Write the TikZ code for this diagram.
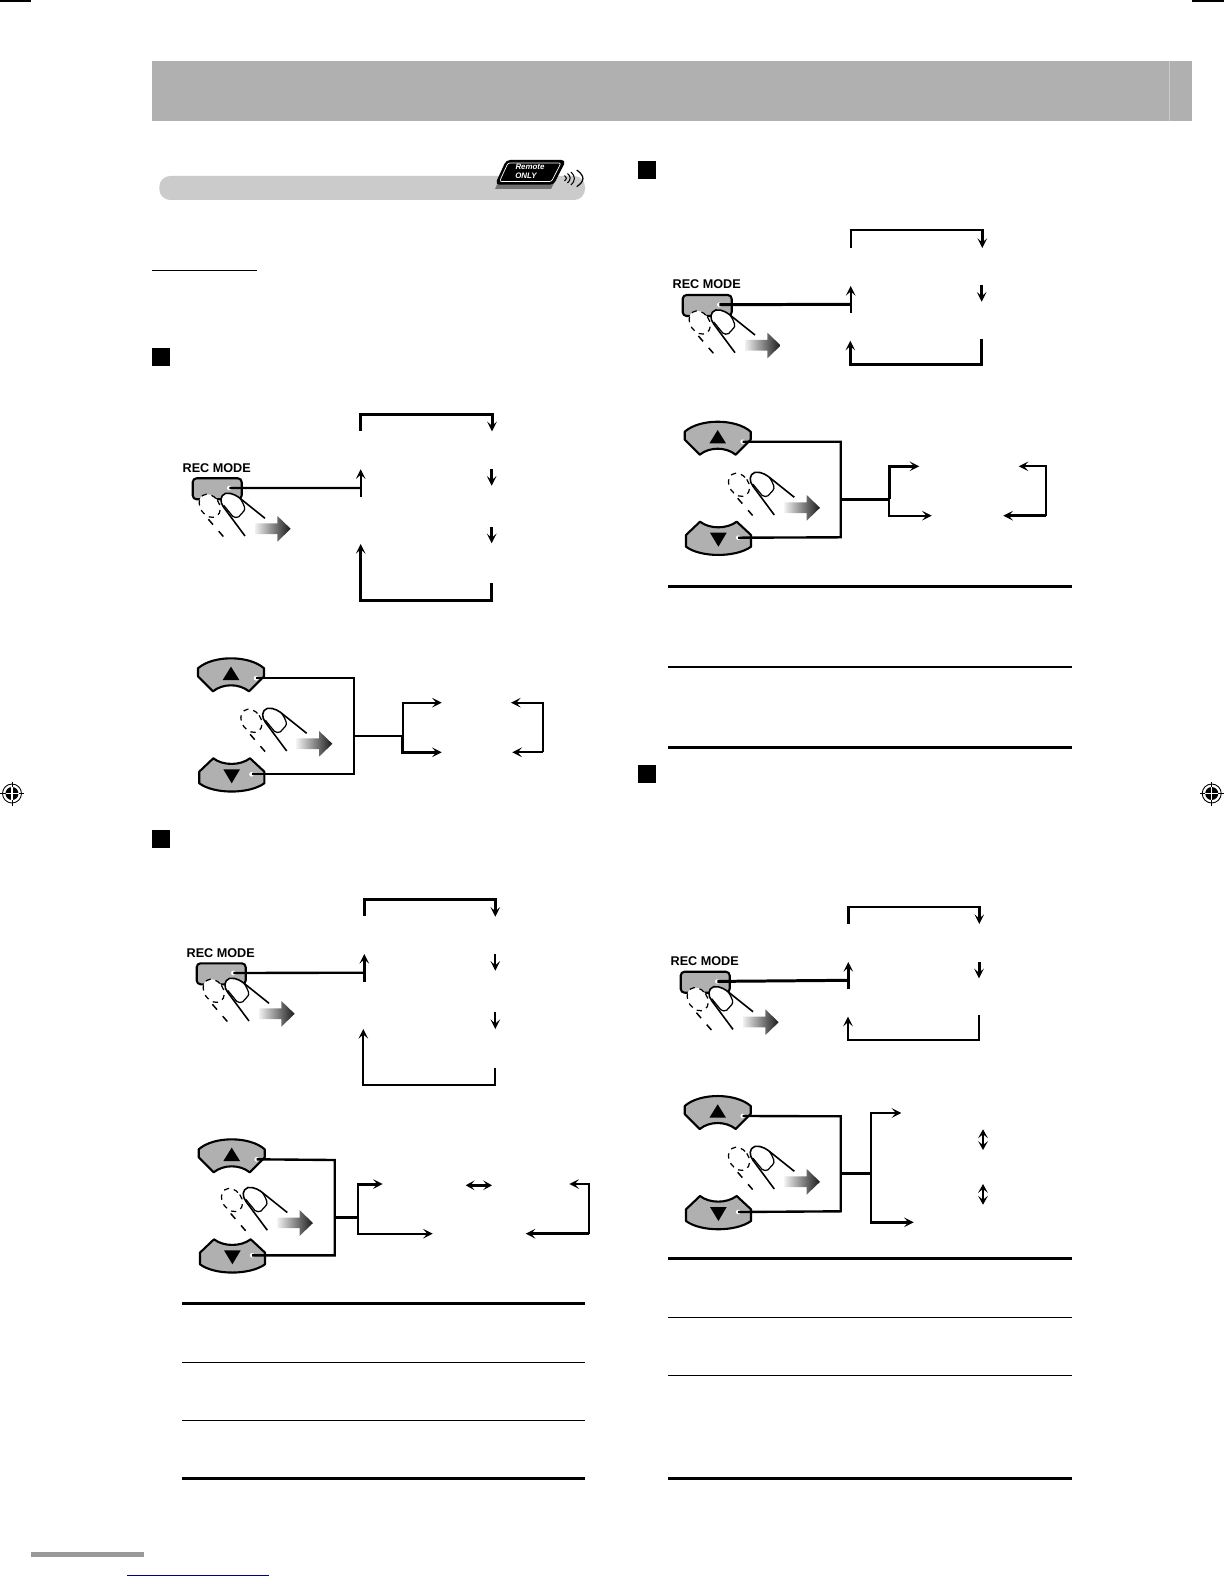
\documentclass[tikz,border=0pt]{standalone}
\usepackage{fontspec}
\setsansfont{Liberation Sans}
\usepackage{tikz}
\usetikzlibrary{arrows.meta}
\definecolor{keygray}{HTML}{B0B0B0}
\definecolor{bargray}{HTML}{CBCBCB}
\tikzset{
  heavy/.style={line width=1.7pt},
  medium/.style={line width=1.35pt},
  light/.style={line width=1pt},
  tipped/.style={-{Stealth[length=5.5pt,width=5.5pt,inset=2.4pt]}},
  tippedboth/.style={{Stealth[length=5pt,width=5.5pt,inset=2.2pt]}-{Stealth[length=5pt,width=5.5pt,inset=2.2pt]}},
  rule/.style={line width=#1},
  keyshape/.style={draw,fill=keygray,line width=1.2pt,line join=round},
  regmark/.pic={
    \fill (0,0) circle (6.5);
    \draw[line width=0.5pt] (0,0) circle (9.5);
    \draw[white,line width=0.6pt] (-6.5,0) -- (6.5,0) (0,-6.5) -- (0,6.5);
    \draw[line width=0.4pt] (-12,0) -- (-6.5,0) (6.5,0) -- (12,0) (0,-12) -- (0,-6.5) (0,6.5) -- (0,12);
  },
  fingerpush/.pic={
    \draw[fill=white,line width=0.7pt,dash pattern=on 3pt off 2.8pt,rotate around={35:(17,27.5)}] (17,27.5) ellipse (9.5 and 12.5);
    \draw[line width=0.85pt,dash pattern=on 4pt off 5pt] (15.7,41) -- (30.7,58.3);
    \fill[white] (52.3,57.7) -- (31,29) .. controls (27,24) and (27,17) .. (33,15) .. controls (40,14) and (46,19) .. (47.3,20) -- (72.3,40) -- cycle;
    \draw[line width=0.9pt] (52.3,57.7) -- (31,29) .. controls (27,24) and (27,17) .. (33,15) .. controls (40,14) and (46,19) .. (47.3,20) -- (72.3,40);
    \draw[line width=0.7pt] (31,27) -- (40,38) .. controls (42,40) and (44,39) .. (46,38.5) -- (51,33) .. controls (53,31) and (52,27) .. (47.3,20);
    \shade[left color=black!6,middle color=black!60,right color=black!90] (62.3,45) -- (84.7,45) -- (84.7,37.7) -- (98,50.5) -- (84.7,63.3) -- (84.7,55.7) -- (62.3,55.7) -- cycle;
  },
  recbutton/.pic={
    \node[font=\sffamily\bfseries\fontsize{7.2}{8}\selectfont,inner sep=0pt] (-label) at (24,-10.6) {REC MODE};
    \draw[keyshape,rounded corners=2.2pt] (0,0) rectangle (49,21);
    \pic at (0,0) {fingerpush};
    \fill[white] (36.6,9.7) circle (2.3);
    \coordinate (-lead) at (36.6,9.7);
  },
  updownkeys/.pic={
    \draw[keyshape] (-33,10) .. controls (-18,-3.3) and (18,-3.3) .. (33,10) -- (33,18) -- (18,33) .. controls (8,25) and (-8,25) .. (-18,33) -- (-33,18) -- cycle;
    \fill (0,8.3) -- (-8.3,21.7) -- (8.3,21.7) -- cycle;
    \draw[keyshape] (-17.7,100) .. controls (-8,107.5) and (9,107.5) .. (19,100) -- (33.3,113.3) -- (33.3,125) .. controls (18,136) and (-17,136) .. (-31.7,125) -- (-31.7,113.3) -- cycle;
    \fill (-7.7,111) -- (9,111) -- (0.7,125) -- cycle;
    \fill[white] (25,20) circle (2.3);
    \fill[white] (20.5,116) circle (2.3);
    \coordinate (-up) at (25,20);
    \coordinate (-down) at (20.5,116);
  },
}
\begin{document}
\begin{tikzpicture}[x=0.02cm,y=-0.02cm]
  \useasboundingbox (0,0) rectangle (1224,1584);

  \fill[keygray] (151.5,61) rectangle (1192,120.7);
  \draw[bargray,line width=0.6pt] (1169.3,61) -- (1169.3,120.7);
  \draw[line width=0.6pt] (0,1) -- (31,1);
  \draw[line width=0.6pt] (1192,1) -- (1224,1);
  \pic (markL) at (12,793.5) {regmark};
  \pic (markR) at (1211.7,793.5) {regmark};
  \fill[black!40] (31,1551.7) rectangle (144,1557);
  \draw[blue!50!black,line width=0.6pt] (127,1575.3) -- (269,1575.3);

  \fill[bargray,rounded corners=6.2pt] (159.3,176) rectangle (585,200);
  \fill[black!55] (506,165) -- (563,165) -- (551,189) -- (495,189) -- cycle;
  \draw[fill=black,line width=0.8pt,rounded corners=2pt] (506.7,160.7) -- (565,160.7) -- (553.3,184) -- (496,184) -- cycle;
  \draw[white,line width=0.4pt,rounded corners=1.2pt] (508,163) -- (561,163) -- (551.5,181.5) -- (499.5,181.5) -- cycle;
  \node[white,font=\sffamily\bfseries\itshape\fontsize{4.5}{5}\selectfont,inner sep=0pt] (remote) at (530,167) {Remote};
  \node[white,font=\sffamily\bfseries\itshape\fontsize{4.5}{5}\selectfont,inner sep=0pt] (only) at (526,176) {ONLY};
  \draw[line width=0.6pt] (564.5,175.5) .. controls (567,177) and (567,179) .. (564.5,181);
  \draw[line width=0.6pt] (567.5,173.5) .. controls (571,176) and (571,180) .. (567.5,183);
  \draw[line width=0.6pt] (571,172) .. controls (575.5,176) and (575.5,181) .. (571,185);
  \draw[line width=0.7pt] (576.7,170) .. controls (585,176) and (585,181) .. (576.7,186.7);

  \draw[rule=0.6pt] (152,270.3) -- (257,270.3);

  \fill (152,348) rectangle (170,366);
  \fill (152,829.6) rectangle (170,847.6);
  \fill (638,161) rectangle (656,179);
  \fill (638,765) rectangle (656,783);

  \pic (recA) at (192.7,478.3) {recbutton};
  \coordinate (aL) at (360.7,488);
  \coordinate (aUpS) at (360.7,496.7);
  \coordinate (aUpE) at (360.7,469.3);
  \coordinate (aT1) at (360.7,430.7);
  \coordinate (aT2) at (360.7,414.3);
  \coordinate (aT3) at (492,414.3);
  \coordinate (aT4) at (492,431.3);
  \coordinate (aM1) at (491.7,469.3);
  \coordinate (aM2) at (491.7,485.7);
  \coordinate (aN1) at (491.7,527.3);
  \coordinate (aN2) at (491.7,543.3);
  \coordinate (aB1) at (491.7,583.3);
  \coordinate (aB2) at (491.7,600.3);
  \coordinate (aB3) at (360.7,600.3);
  \coordinate (aB4) at (360.7,544);
  \draw[medium] (recA-lead) -- (aL);
  \draw[light,tipped] (aUpS) -- (aUpE);
  \draw[heavy,tipped] (aT1) -- (aT2) -- (aT3) -- (aT4);
  \draw[heavy,tipped] (aM1) -- (aM2);
  \draw[heavy,tipped] (aN1) -- (aN2);
  \draw[heavy,tipped] (aB1) -- (aB2) -- (aB3) -- (aB4);

  \pic (keyA) at (231,658.3) {updownkeys};
  \pic (pushA) at (234.4,693.3) {fingerpush};
  \coordinate (aV1) at (353.7,678.3);
  \coordinate (aV2) at (353.7,774.3);
  \coordinate (aV3) at (353.7,735.7);
  \coordinate (aJ) at (402.7,735.7);
  \coordinate (aJ1) at (402.7,702.7);
  \coordinate (aJ2) at (402.7,752.3);
  \coordinate (aE1) at (441.7,702.7);
  \coordinate (aE2) at (441.7,752.3);
  \coordinate (aR1) at (542.7,702.7);
  \coordinate (aR2) at (542.7,752.3);
  \coordinate (aF1) at (511,702.7);
  \coordinate (aF2) at (512.3,752.3);
  \draw[medium] (keyA-up) -- (aV1) -- (aV2) -- (keyA-down);
  \draw[medium] (aV3) -- (aJ);
  \draw[medium,tipped] (aJ) -- (aJ1) -- (aE1);
  \draw[heavy,tipped] (aJ) -- (aJ2) -- (aE2);
  \draw[medium,tipped] (aR2) -- (aR1) -- (aF1);
  \draw[medium,tipped] (aR2) -- (aF2);

  \pic (recB) at (196.7,963.3) {recbutton};
  \coordinate (bL) at (364.3,972.7);
  \coordinate (bUpS) at (364.3,981.7);
  \coordinate (bUpE) at (364.3,954);
  \coordinate (bT1) at (364.3,915.7);
  \coordinate (bT2) at (364.3,899.3);
  \coordinate (bT3) at (495.3,899.3);
  \coordinate (bT4) at (495.3,916.7);
  \coordinate (bM1) at (495.3,954);
  \coordinate (bM2) at (495.3,970.7);
  \coordinate (bN1) at (495.3,1012);
  \coordinate (bN2) at (495.3,1029);
  \coordinate (bB1) at (495.3,1068.3);
  \coordinate (bB2) at (495.3,1085.3);
  \coordinate (bB3) at (363.3,1085.3);
  \coordinate (bB4) at (363.3,1029);
  \draw[medium] (recB-lead) -- (bL);
  \draw[heavy,tipped] (bUpS) -- (bUpE);
  \draw[heavy,tipped] (bT1) -- (bT2) -- (bT3) -- (bT4);
  \draw[light,tipped] (bM1) -- (bM2);
  \draw[light,tipped] (bN1) -- (bN2);
  \draw[medium,tipped] (bB1) -- (bB2) -- (bB3) -- (bB4);

  \pic (keyB) at (231.7,1139.3) {updownkeys};
  \pic (pushB) at (215,1172.5) {fingerpush};
  \coordinate (bV1) at (334.7,1160);
  \coordinate (bV2) at (334.7,1255.3);
  \coordinate (bV3) at (334.7,1217.3);
  \coordinate (bJ) at (358,1217.3);
  \coordinate (bJ1) at (358,1184);
  \coordinate (bJ2) at (358,1233.7);
  \coordinate (bE1) at (382.7,1184);
  \coordinate (bE2) at (432.7,1233.7);
  \coordinate (bD1) at (465.7,1185.3);
  \coordinate (bD2) at (492,1185.3);
  \coordinate (bR1) at (589.3,1184);
  \coordinate (bR2) at (589.3,1233.7);
  \coordinate (bF1) at (569.3,1184);
  \coordinate (bF2) at (525.7,1233.7);
  \draw[medium] (keyB-up) -- (bV1) -- (bV2) -- (keyB-down);
  \draw[heavy] (bV3) -- (bJ);
  \draw[heavy,tipped] (bJ) -- (bJ1) -- (bE1);
  \draw[light,tipped] (bJ) -- (bJ2) -- (bE2);
  \draw[heavy,tippedboth] (bD1) -- (bD2);
  \draw[medium,tipped] (bR2) -- (bR1) -- (bF1);
  \draw[heavy,tipped] (bR2) -- (bF2);

  \draw[rule=1.9pt] (182,1303.3) -- (585,1303.3);
  \draw[rule=0.75pt] (182,1362.3) -- (585,1362.3);
  \draw[rule=0.75pt] (182,1420.3) -- (585,1420.3);
  \draw[rule=1.5pt] (182,1478.7) -- (585,1478.7);

  \pic (recC) at (682.7,295) {recbutton};
  \coordinate (cL) at (850.7,304.3);
  \coordinate (cUpS) at (850.7,313.3);
  \coordinate (cUpE) at (850.7,286);
  \coordinate (cT1) at (850.7,247.7);
  \coordinate (cT2) at (850.7,230.3);
  \coordinate (cT3) at (982.3,230.3);
  \coordinate (cT4) at (982.3,248);
  \coordinate (cM1) at (981.7,285.3);
  \coordinate (cM2) at (981.7,301.7);
  \coordinate (cB1) at (981.7,339.3);
  \coordinate (cB2) at (981.7,364.3);
  \coordinate (cB3) at (850.3,364.3);
  \coordinate (cB4) at (850.3,340.7);
  \draw[heavy] (recC-lead) -- (cL);
  \draw[light,tipped] (cUpS) -- (cUpE);
  \draw[medium,tipped] (cT1) -- (cT2) -- (cT3) -- (cT4);
  \draw[heavy,tipped] (cM1) -- (cM2);
  \draw[heavy,tipped] (cB1) -- (cB2) -- (cB3) -- (cB4);

  \pic (keyC) at (717.7,421.7) {updownkeys};
  \pic (pushC) at (722,457.3) {fingerpush};
  \coordinate (cV1) at (840.7,441.7);
  \coordinate (cV2) at (840.7,537.3);
  \coordinate (cV3) at (840.7,499.3);
  \coordinate (cJ) at (889,499.3);
  \coordinate (cJ1) at (889,466.3);
  \coordinate (cJ2) at (889,515.7);
  \coordinate (cE1) at (919.3,466.3);
  \coordinate (cE2) at (931.7,515.7);
  \coordinate (cR1) at (1045.7,466.3);
  \coordinate (cR2) at (1045.7,515.7);
  \coordinate (cF1) at (1018.7,466.3);
  \coordinate (cF2) at (1003.3,515.7);
  \draw[medium] (keyC-up) -- (cV1) -- (cV2) -- (keyC-down);
  \draw[heavy] (cV3) -- (cJ);
  \draw[heavy,tipped] (cJ) -- (cJ1) -- (cE1);
  \draw[light,tipped] (cJ) -- (cJ2) -- (cE2);
  \draw[medium,tipped] (cR2) -- (cR1) -- (cF1);
  \draw[heavy,tipped] (cR2) -- (cF2);

  \draw[rule=1.9pt] (668,586.3) -- (1072,586.3);
  \draw[rule=1.1pt] (668,667) -- (1072,667);
  \draw[rule=1.9pt] (668,747.3) -- (1072,747.3);

  \pic (recD) at (680.7,971.7) {recbutton};
  \coordinate (dL) at (848.3,980.3);
  \coordinate (dUpS) at (848.3,989.3);
  \coordinate (dUpE) at (848.3,962);
  \coordinate (dT1) at (848.3,923.7);
  \coordinate (dT2) at (848.3,906.7);
  \coordinate (dT3) at (979.3,906.7);
  \coordinate (dT4) at (979.3,924);
  \coordinate (dM1) at (979,962);
  \coordinate (dM2) at (979,978.3);
  \coordinate (dB1) at (979,1015.3);
  \coordinate (dB2) at (979,1040.3);
  \coordinate (dB3) at (848,1040.3);
  \coordinate (dB4) at (848,1016.7);
  \draw[heavy] (recD-lead) -- (dL);
  \draw[heavy,tipped] (dUpS) -- (dUpE);
  \draw[medium,tipped] (dT1) -- (dT2) -- (dT3) -- (dT4);
  \draw[heavy,tipped] (dM1) -- (dM2);
  \draw[medium,tipped] (dB1) -- (dB2) -- (dB3) -- (dB4);

  \pic (keyD) at (717.7,1096) {updownkeys};
  \pic (pushD) at (722,1131.3) {fingerpush};
  \coordinate (dV1) at (840.7,1116.3);
  \coordinate (dV2) at (840.7,1211.3);
  \coordinate (dV3) at (840.7,1173.7);
  \coordinate (dJ) at (870.7,1173.7);
  \coordinate (dJ1) at (870.7,1113);
  \coordinate (dJ2) at (870.7,1222.3);
  \coordinate (dE1) at (901.3,1113);
  \coordinate (dE2) at (913.7,1222.3);
  \coordinate (dD1) at (983,1129.3);
  \coordinate (dD2) at (983,1150);
  \coordinate (dD3) at (983,1184);
  \coordinate (dD4) at (983,1204.7);
  \draw[medium] (keyD-up) -- (dV1) -- (dV2) -- (keyD-down);
  \draw[heavy] (dV3) -- (dJ);
  \draw[medium,tipped] (dJ) -- (dJ1) -- (dE1);
  \draw[medium,tipped] (dJ) -- (dJ2) -- (dE2);
  \draw[medium,tippedboth] (dD1) -- (dD2);
  \draw[medium,tippedboth] (dD3) -- (dD4);

  \draw[rule=1.9pt] (668,1258.3) -- (1072,1258.3);
  \draw[rule=0.75pt] (668,1317.3) -- (1072,1317.3);
  \draw[rule=0.75pt] (668,1375.3) -- (1072,1375.3);
  \draw[rule=1.5pt] (668,1478.7) -- (1072,1478.7);
\end{tikzpicture}
\end{document}
